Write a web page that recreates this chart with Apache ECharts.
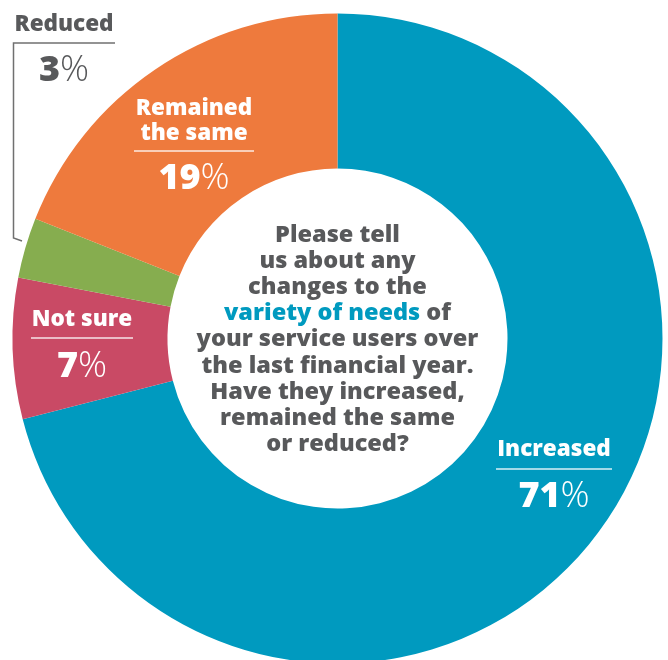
<!DOCTYPE html>
<html>
<head>
<meta charset="utf-8">
<script src="https://cdn.jsdelivr.net/npm/echarts@6/dist/echarts.min.js"></script>
<style>
  html, body { margin: 0; padding: 0; background: #ffffff; }
  #chart { width: 668px; height: 660px; }
</style>
</head>
<body>
<div id="chart"></div>
<script>
// Survey answers, clockwise from 12 o'clock
const categories = ['Increased', 'Not sure', 'Reduced', 'Remained the same'];
const labelLines = [['Increased'], ['Not sure'], ['Reduced'], ['Remained', 'the same']];
const values = [71, 7, 3, 19];
const colors = ['#009abf', '#c94a65', '#86ad4f', '#ee7a3d'];

// Question shown in the hole of the donut
const questionLines = [
  'Please tell',
  'us about any',
  'changes to the',
  '{hl|variety of needs} of',
  'your service users over',
  'the last financial year.',
  'Have they increased,',
  'remained the same',
  'or reduced?'
];

// Label placement per category: centre x, first-line y, rule y, value y, text colour
const labelLayout = [
  { x: 554, y: 450, rule: 469, half: 58, val: 497, color: '#ffffff' },
  { x: 82,  y: 320, rule: 338, half: 51, val: 367, color: '#ffffff' },
  { x: 64,  y: 25,  rule: null, half: 0, val: 71, color: '#58595b' },
  { x: 194, y: 109, rule: 151, half: 60, val: 179, color: '#ffffff' }
];

const FONT = '"Open Sans", "Noto Sans", sans-serif';
const GREY = '#58595b';
const CX = 337.5, CY = 338.5;

const chart = echarts.init(document.getElementById('chart'), null, { renderer: 'canvas' });

const graphics = [];

categories.forEach((name, i) => {
  const L = labelLayout[i];
  labelLines[i].forEach((line, k) => {
    graphics.push({
      type: 'text', x: L.x, y: L.y + k * 24.5, z: 10,
      style: {
        text: line, fill: L.color, font: '800 22.5px ' + FONT,
        align: 'center', verticalAlign: 'middle'
      }
    });
  });
  if (L.rule !== null) {
    graphics.push({
      type: 'line', z: 10,
      shape: { x1: L.x - L.half, y1: L.rule, x2: L.x + L.half, y2: L.rule },
      style: { stroke: 'rgba(255,255,255,0.85)', lineWidth: 1.5 }
    });
  }
  graphics.push({
    type: 'text', x: L.x, y: L.val, z: 10,
    style: {
      text: '{n|' + values[i] + '}{p|%}',
      align: 'center', verticalAlign: 'middle',
      rich: {
        n: { fill: L.color, font: '800 36px ' + FONT },
        p: { fill: L.color, font: '300 36px ' + FONT }
      }
    }
  });
});

// Bracket linking the small "Reduced" slice to its label
graphics.push({
  type: 'polyline', z: 10,
  shape: { points: [[115, 43], [13.5, 43], [13.5, 238], [22, 241]] },
  style: { stroke: '#707070', lineWidth: 1.5, fill: null }
});

// Centre question
questionLines.forEach((line, k) => {
  graphics.push({
    type: 'text', x: CX, y: 235 + k * 26.2, z: 10,
    style: {
      text: line, align: 'center', verticalAlign: 'middle',
      fill: GREY, font: '800 23.5px ' + FONT,
      rich: {
        hl: { fill: '#009abf', font: '800 23.5px ' + FONT }
      }
    }
  });
});

chart.setOption({
  backgroundColor: '#ffffff',
  animation: false,
  series: [{
    type: 'pie',
    center: [CX, CY],
    radius: [170, 325],
    startAngle: 90,
    clockwise: true,
    silent: true,
    label: { show: false },
    labelLine: { show: false },
    data: categories.map((name, i) => ({
      name: name, value: values[i], itemStyle: { color: colors[i] }
    }))
  }],
  graphic: graphics
});
</script>
</body>
</html>
